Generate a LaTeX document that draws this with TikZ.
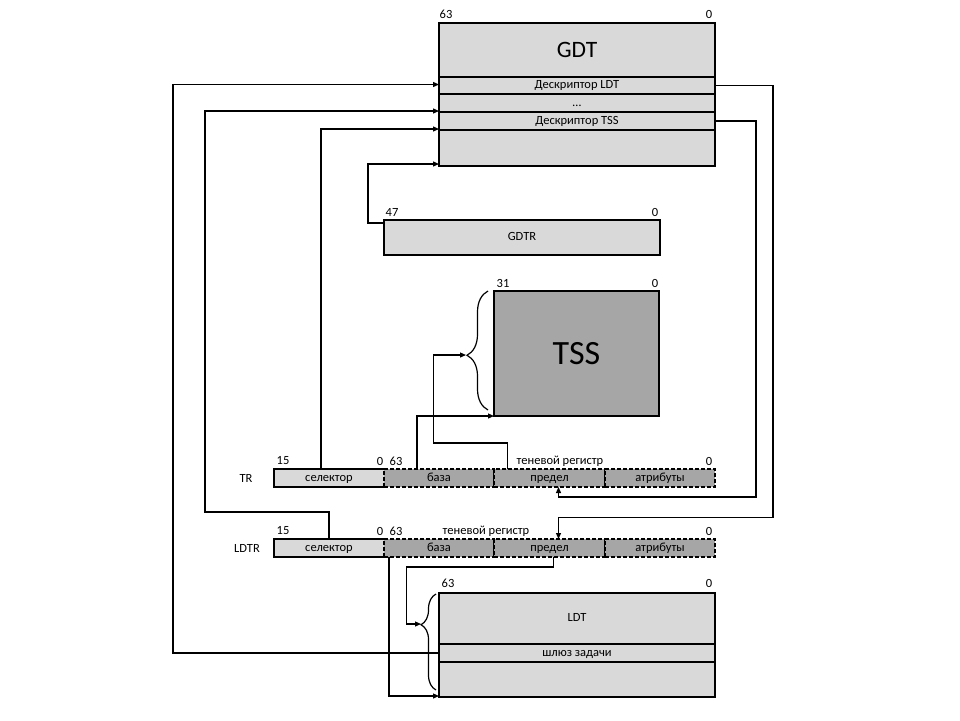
\documentclass[tikz,border=0pt]{standalone}
\usepackage{fontspec}
\setmainfont{Carlito}
\usetikzlibrary{arrows.meta,decorations.pathreplacing}

\begin{document}
\begin{tikzpicture}[x=1pt,y=-1pt,
	box/.style={draw,line width=1.3pt,fill=black!15,inner sep=0pt,outer sep=0pt,anchor=north west},
	cell/.style={box,text height=8pt,text depth=2pt,font=\fontsize{12.5}{14}\selectfont},
	shadow/.style={cell,fill=black!35,dash pattern=on 4pt off 2pt},
	selbox/.style={cell,draw=none},
	num/.style={inner sep=0pt,font=\fontsize{12.5}{14}\selectfont},
	wire/.style={line width=1.2pt},
	link/.style={wire,-{Triangle[length=6pt,width=5pt]}},
	brc/.style={wire,decorate,decoration={brace,amplitude=#1}}]
	\useasboundingbox (0,0) rectangle (960,720);

	\node[box,minimum width=276pt,minimum height=54pt,font=\fontsize{23.5}{26}\selectfont] (gdt) at (439,23) {GDT};
	\node[cell,minimum width=276pt,minimum height=17pt] (ldtdesc) at (439,77) {Дескриптор LDT};
	\node[cell,minimum width=276pt,minimum height=18pt] (dots) at (439,94) {\ldots};
	\node[cell,minimum width=276pt,minimum height=18pt] (tssdesc) at (439,112) {Дескриптор TSS};
	\node[cell,minimum width=276pt,minimum height=36pt] (gdtbot) at (439,130) {};
	\node[num] (gdthi) at (446,14) {63};
	\node[num] (gdtlo) at (709,14) {0};

	\node[cell,minimum width=276pt,minimum height=35pt] (gdtr) at (384,220) {GDTR};
	\node[num] (gdtrhi) at (392,212) {47};
	\node[num] (gdtrlo) at (655,212) {0};

	\node[box,fill=black!35,minimum width=165pt,minimum height=125pt,font=\fontsize{34}{38}\selectfont] (tss) at (494,291) {TSS};
	\node[num] (tsshi) at (503,283) {31};
	\node[num] (tsslo) at (655,283) {0};
	\coordinate (tsstip) at (466,355);
	\draw[brc=21pt,decoration={aspect=0.46}] (488,410) -- (488,291);

	\node[num] (trname) at (246,478) {TR};
	\node[selbox,minimum width=110pt,minimum height=18pt] (trsel) at (274,469) {селектор};
	\draw[line width=1.3pt] (trsel.north east) -- (trsel.north west) -- (trsel.south west) -- (trsel.south east);
	\node[shadow,minimum width=110pt,minimum height=18pt] (trbase) at (384,469) {база};
	\node[shadow,minimum width=111pt,minimum height=18pt] (trlim) at (494,469) {предел};
	\node[shadow,minimum width=110pt,minimum height=18pt] (trattr) at (605,469) {атрибуты};
	\node[num] (tr15) at (283,461) {15};
	\node[num] (tr0) at (380,461) {0};
	\node[num] (tr63) at (396,461) {63};
	\node[num] (trshadow) at (560,461) {теневой регистр};
	\node[num] (trlo) at (709,461) {0};

	\node[num] (ldtrname) at (247,548) {LDTR};
	\node[selbox,minimum width=110pt,minimum height=18pt] (ldtrsel) at (274,539) {селектор};
	\draw[line width=1.3pt] (ldtrsel.north east) -- (ldtrsel.north west) -- (ldtrsel.south west) -- (ldtrsel.south east);
	\node[shadow,minimum width=110pt,minimum height=18pt] (ldtrbase) at (384,539) {база};
	\node[shadow,minimum width=111pt,minimum height=18pt] (ldtrlim) at (494,539) {предел};
	\node[shadow,minimum width=110pt,minimum height=18pt] (ldtrattr) at (605,539) {атрибуты};
	\node[num] (ldtr15) at (283,531) {15};
	\node[num] (ldtr0) at (380,531) {0};
	\node[num] (ldtr63) at (396,531) {63};
	\node[num] (ldtrshadow) at (486,531) {теневой регистр};
	\node[num] (ldtrlo) at (709,531) {0};

	\node[cell,minimum width=276pt,minimum height=51pt] (ldt) at (439,593) {LDT};
	\node[cell,minimum width=276pt,minimum height=18pt] (gate) at (439,644) {шлюз задачи};
	\node[cell,minimum width=276pt,minimum height=35pt] (ldtbot) at (439,662) {};
	\node[num] (ldthi) at (448,583) {63};
	\node[num] (ldtlo) at (709,583) {0};
	\coordinate (ldttip) at (421,624);
	\draw[brc=15pt,decoration={aspect=0.68}] (436,690) -- (436,594);

	\draw[link] ([yshift=-3pt]gdtr.north west) -- ++(-16,0) |- ([yshift=2pt]gdtbot.south west);
	\draw[link] ([xshift=-8pt]trsel.north) |- ([yshift=1pt]tssdesc.south west);
	\draw[link] (ldtrsel.north) -- ++(0,-27) -- ++(-124,0) |- ([yshift=1pt]dots.south west);
	\draw[link] (gate.west) -- ++(-266,0) |- ([yshift=1pt]ldtdesc.west);
	\draw[link] (ldtdesc.east) -- ++(58,0) -- ++(0,432) -| ([xshift=9pt]ldtrlim.north);
	\draw[link] (tssdesc.east) -- ++(41,0) -- ++(0,376) -| ([xshift=9pt]trlim.south);
	\draw[link] ([xshift=-22pt]trbase.north) |- (tss.south west);
	\draw[link] ([xshift=-42pt]trlim.north) -- ++(0,-26) -- ++(-74,0) |- (tsstip);
	\draw[link] ([xshift=4pt]ldtrlim.south) -- ++(0,10) -- ++(-147,0) |- (ldttip);
	\draw[link] ([xshift=-50pt]ldtrbase.south) |- ([yshift=1pt]ldtbot.south west);
\end{tikzpicture}
\end{document}
